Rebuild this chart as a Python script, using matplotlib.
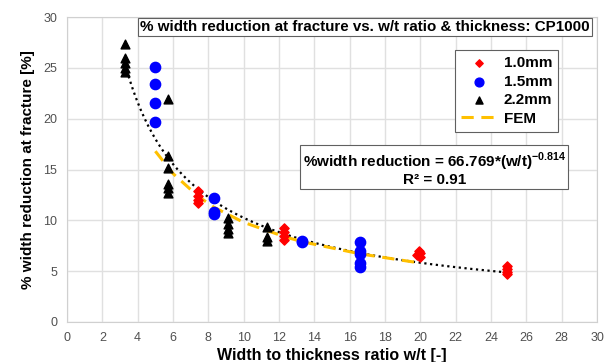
import numpy as np
import matplotlib
matplotlib.use('Agg')
import matplotlib.pyplot as plt

plt.rcParams['font.family'] = ['Liberation Sans', 'DejaVu Sans']
plt.rcParams['mathtext.fontset'] = 'custom'
plt.rcParams['mathtext.rm'] = 'Liberation Sans:bold'
plt.rcParams['mathtext.bf'] = 'Liberation Sans:bold'

x_10 = [7.4, 7.4, 7.4, 7.4, 12.3, 12.3, 12.3, 12.3, 19.9, 20.0, 19.8, 20.0, 24.9, 24.9, 24.9, 24.9]
y_10 = [12.9, 12.4, 12.0, 11.7, 9.2, 8.9, 8.5, 8.1, 7.0, 6.8, 6.6, 6.4, 5.5, 5.2, 4.9, 4.7]

x_15 = [5.0, 5.0, 5.0, 5.0, 8.3, 8.3, 8.3, 13.3, 13.3, 16.6, 16.6, 16.6, 16.6, 16.6]
y_15 = [25.1, 23.4, 21.5, 19.7, 12.2, 10.8, 10.6, 8.0, 7.9, 7.9, 7.0, 6.7, 5.8, 5.4]

x_22 = [3.3, 3.3, 3.3, 3.3, 3.3, 5.7, 5.7, 5.7, 5.7, 5.7, 5.7, 9.1, 9.1, 9.1, 9.1, 11.3, 11.3, 11.3]
y_22 = [27.3, 26.0, 25.5, 25.0, 24.6, 21.9, 16.3, 15.1, 13.6, 13.2, 12.7, 10.2, 9.6, 9.1, 8.8, 9.3, 8.4, 8.0]

x_fem = [5.0, 6.0, 7.4, 8.3, 10.0, 12.3, 13.3, 16.6, 20.0]
y_fem = [16.8, 14.6, 12.4, 11.3, 9.8, 8.4, 7.9, 6.7, 5.8]

fit_a = 66.769
fit_b = -0.814

fig = plt.figure(figsize=(6.12, 3.62), dpi=100)
ax = fig.add_axes([0.1095, 0.1105, 0.866, 0.8425])

ax.set_xlim(0, 30)
ax.set_ylim(0, 30)
ax.set_xticks(np.arange(0, 31, 2))
ax.set_yticks(np.arange(0, 31, 5))
ax.grid(True, color='#e0e0e0', linewidth=1.0)
ax.set_axisbelow(True)
for sp in ax.spines.values():
    sp.set_color('#d0d0d0')
ax.tick_params(length=0, labelsize=9, labelcolor='#505050', pad=7)

xf = np.linspace(3.3, 25, 200)
ax.plot(xf, fit_a * xf ** fit_b, linestyle=(0, (1, 1.6)), color='black', linewidth=1.6, zorder=2)
ax.plot(x_fem, y_fem, linestyle=(0, (4, 2.5)), color='#ffc000', linewidth=2.2, label='FEM', zorder=3)

ax.scatter(x_10, y_10, marker='D', s=22, color='red', label='1.0mm', zorder=4)
ax.scatter(x_15, y_15, marker='o', s=55, color='blue', label='1.5mm', zorder=4)
ax.scatter(x_22, y_22, marker='^', s=40, color='black', label='2.2mm', zorder=4)

handles, labels = ax.get_legend_handles_labels()
order = [1, 2, 3, 0]
leg = ax.legend([handles[i] for i in order], [labels[i] for i in order],
                loc='upper left', bbox_to_anchor=(0.732, 0.892), borderaxespad=0,
                prop={'weight': 'bold', 'size': 11}, fancybox=False,
                edgecolor='#606060', framealpha=1, handlelength=2.4,
                handletextpad=0.4, borderpad=0.4, labelspacing=0.3, scatterpoints=1)
leg.get_frame().set_linewidth(0.8)
for h, s in zip(leg.legend_handles[:3], [14, 40, 26]):
    h.set_sizes([s])

ax.text(0.1386, 0.968, '% width reduction at fracture vs. w/t ratio & thickness: CP1000',
        transform=ax.transAxes, ha='left', va='center', fontsize=10.9, fontweight='bold',
        bbox=dict(boxstyle='square,pad=0.15', facecolor='white', edgecolor='#606060', linewidth=0.8),
        zorder=5)

ax.text(0.693, 0.503, '%width reduction = 66.769*(w/t)$^{-0.814}$\nR² = 0.91',
        transform=ax.transAxes, ha='center', va='center', fontsize=11, fontweight='bold',
        linespacing=1.0,
        bbox=dict(boxstyle='square,pad=0.15', facecolor='white', edgecolor='#606060', linewidth=0.8),
        zorder=5)

ax.set_xlabel('Width to thickness ratio w/t [-]', fontsize=11.5, fontweight='bold', labelpad=3)
ax.set_ylabel('% width reduction at fracture [%]', fontsize=11, fontweight='bold', labelpad=6)

fig.savefig('out.png', dpi=100)
